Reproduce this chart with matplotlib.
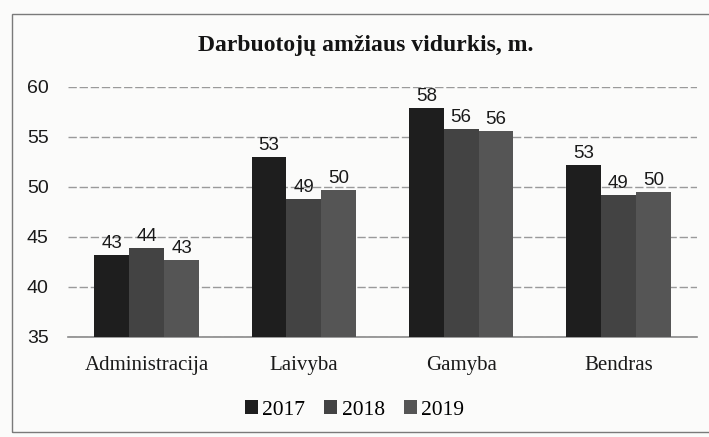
import numpy as np
import matplotlib.pyplot as plt
from matplotlib.patches import Rectangle

plt.rcParams['font.family'] = ['Liberation Serif', 'DejaVu Serif']

categories = ['Administracija', 'Laivyba', 'Gamyba', 'Bendras']
years = ['2017', '2018', '2019']
values = {
    '2017': [43.2, 53.0, 57.9, 52.2],
    '2018': [43.9, 48.8, 55.8, 49.2],
    '2019': [42.7, 49.7, 55.6, 49.5],
}
labels = {
    '2017': ['43', '53', '58', '53'],
    '2018': ['44', '49', '56', '49'],
    '2019': ['43', '50', '56', '50'],
}
colors = ['#1e1e1e', '#434343', '#555555']
num_font = ['Liberation Sans', 'DejaVu Sans']

fig = plt.figure(figsize=(7.09, 4.37), dpi=100)
fig.patch.set_facecolor('#fbfbfa')
ax = fig.add_axes([0.096, 0.229, 0.887, 0.572])
ax.set_facecolor('#fbfbfa')

x = np.arange(len(categories))
w = 0.222
for i, yr in enumerate(years):
    pos = x + (i - 1) * w
    ax.bar(pos, np.array(values[yr]) - 35, w, bottom=35,
           color=colors[i], label=yr, zorder=3)
    for p, v, t in zip(pos, values[yr], labels[yr]):
        ax.text(p, v + 0.3, t, ha='center', va='bottom', fontsize=13.5,
                family=num_font, color='#1a1a1a', clip_on=False, zorder=4)

ax.set_ylim(35, 60)
ax.set_xlim(-0.5, 3.5)
ax.set_yticks([35, 40, 45, 50, 55, 60])
ax.yaxis.grid(True, color='#9a9a9a', linewidth=1.0, linestyle=(0, (6, 2)))
ax.set_axisbelow(True)
for s in ['top', 'right', 'left']:
    ax.spines[s].set_visible(False)
ax.spines['bottom'].set_color('#8a8a8a')
ax.spines['bottom'].set_linewidth(1.2)
ax.tick_params(axis='both', length=0, colors='#1a1a1a')
ax.tick_params(axis='y', pad=14, labelsize=14)
ax.tick_params(axis='x', pad=14, labelsize=15)
for lab in ax.get_yticklabels():
    lab.set_family(num_font)
ax.set_xticks(x)
ax.set_xticklabels(categories)

fig.text(0.516, 0.897, 'Darbuotojų amžiaus vidurkis, m.', ha='center', va='center',
         fontsize=17, fontweight='bold', color='#141414')

fig.legend(loc='center', bbox_to_anchor=(0.5, 0.062), ncol=3, frameon=False,
           fontsize=15.5, handlelength=0.6, handleheight=0.6, handletextpad=0.2,
           columnspacing=0.9)

fig.patches.append(Rectangle((12 / 709, 0.012), 1.2, 1 - 14 / 437 - 0.012,
                             transform=fig.transFigure, fill=False,
                             edgecolor='#7a7a7a', linewidth=1.0))

fig.savefig('out.png', dpi=100, facecolor=fig.get_facecolor())
